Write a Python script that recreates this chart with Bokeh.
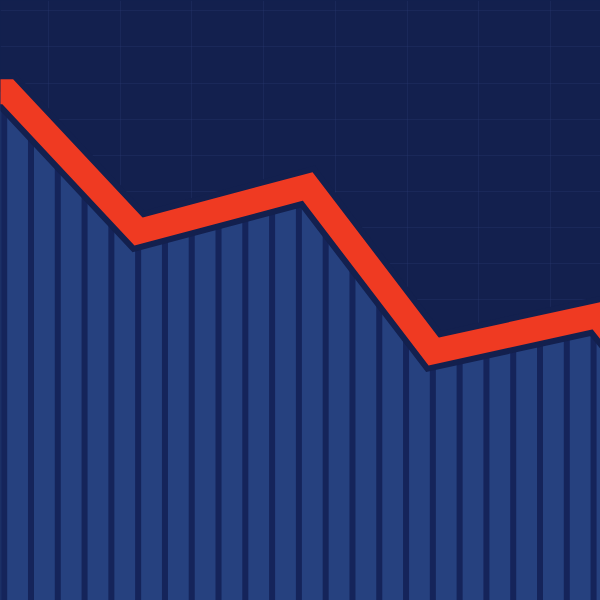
import numpy as np
from bokeh.plotting import figure
from bokeh.models import Range1d, FixedTicker, GlobalInlineStyleSheet
from bokeh.embed import file_html
from bokeh.resources import INLINE

# ---- data (x and y in percent of the plot frame) ----
line_x = [-8.0, 1.2, 23.0, 51.2, 72.2, 99.5, 106.7]
line_y = [84.8, 84.8, 61.5, 69.0, 41.5, 47.5, 38.5]

grid_x = [8.0, 19.95, 31.9, 43.85, 55.8, 67.75, 79.7, 91.65]
grid_y = [98.3, 92.3, 86.2, 80.2, 74.2, 68.2, 62.1, 56.1, 50.1, 44.0,
          38.0, 32.0, 26.0, 19.9, 13.9, 7.9, 1.9]

BG = "#13204e"
BLUE = "#26417f"
STRIPE = "#15245a"
RED = "#ef3a22"

W = H = 600
p = figure(width=W, height=H, x_range=Range1d(0, 100), y_range=Range1d(0, 100),
           output_backend="svg", toolbar_location=None, min_border=0)
p.stylesheets = [GlobalInlineStyleSheet(
    css="html, body { margin: 0; padding: 0; background: #13204e; overflow: hidden; }")]
p.background_fill_color = BG
p.border_fill_color = BG
p.outline_line_color = None
p.xaxis.visible = False
p.yaxis.visible = False
p.xaxis.ticker = FixedTicker(ticks=grid_x)
p.yaxis.ticker = FixedTicker(ticks=grid_y)
p.grid.grid_line_color = "#2a3c74"
p.grid.grid_line_alpha = 0.3
p.grid.grid_line_width = 1

# blue area under the line
p.varea(x=line_x, y1=0, y2=line_y, fill_color=BLUE)

# dark vertical separators between the bars
stripe_x = np.arange(0.617, 101, 4.465)
stripe_top = np.interp(stripe_x, line_x, line_y)
p.vbar(x=stripe_x, width=1.0, bottom=0, top=stripe_top,
       fill_color=STRIPE, line_color=None)

# dark halo and red line
px = W / 600.0
p.line(line_x, line_y, line_color=BG, line_width=37 * px, line_join="miter")
p.line(line_x, line_y, line_color=RED, line_width=25 * px, line_join="miter")

open("out.html", "w").write(file_html(p, INLINE))
